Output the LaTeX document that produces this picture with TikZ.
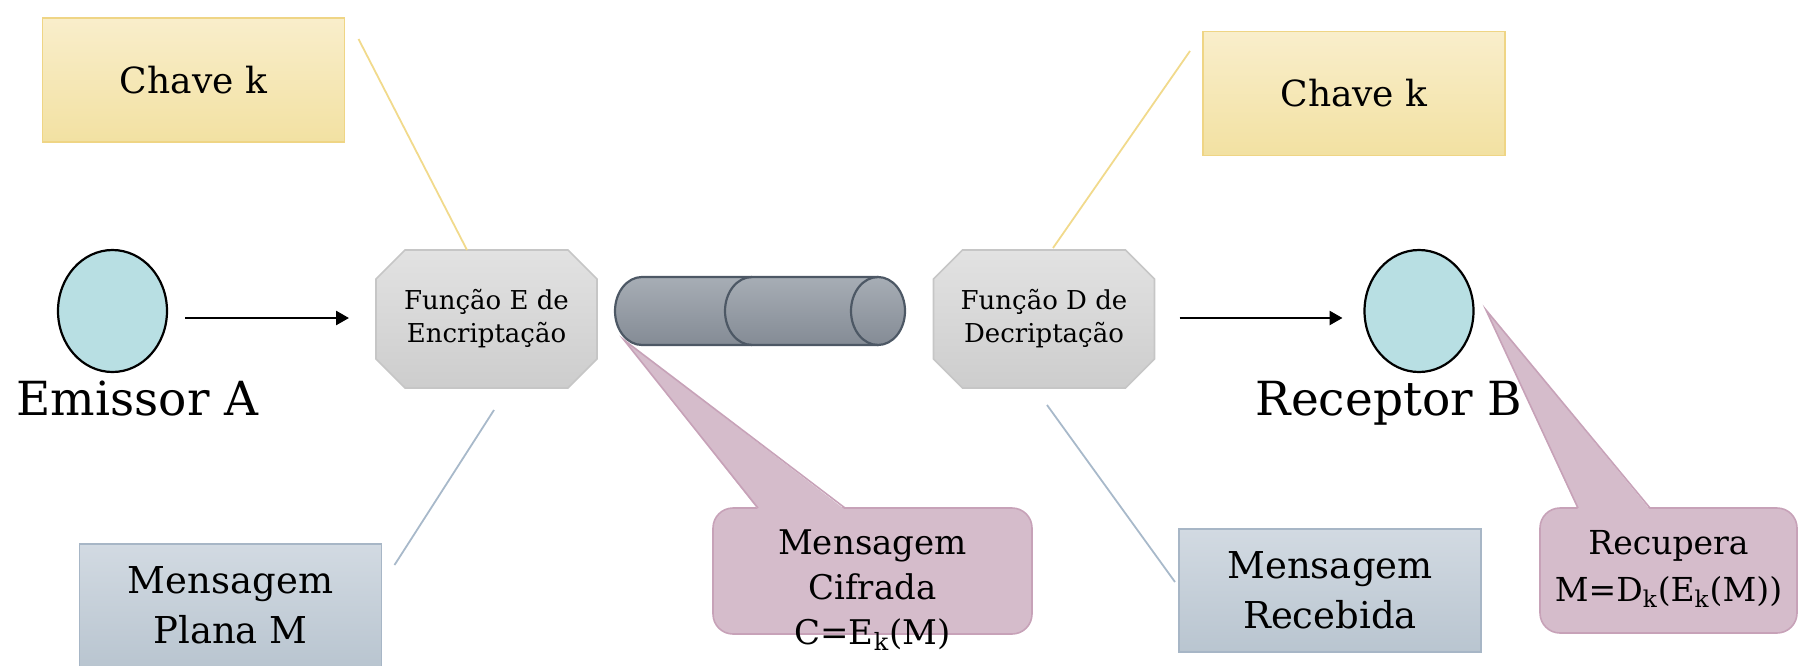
\documentclass[tikz,border=0pt]{standalone}
\usepackage{fontspec}
\setmainfont{DejaVu Serif}
\usetikzlibrary{shapes.geometric,arrows.meta,calc,backgrounds}

\definecolor{keytop}{HTML}{F9EECB}
\definecolor{keybot}{HTML}{F2E1A2}
\definecolor{keyedge}{HTML}{EFD585}
\definecolor{keyline}{HTML}{F1DA8C}
\definecolor{msgtop}{HTML}{D2DAE2}
\definecolor{msgbot}{HTML}{B9C5D0}
\definecolor{msgedge}{HTML}{A7B6C6}
\definecolor{msgline}{HTML}{A8B9CA}
\definecolor{functop}{HTML}{E2E2E2}
\definecolor{funcbot}{HTML}{CDCDCD}
\definecolor{funcedge}{HTML}{C6C6C6}
\definecolor{partyfill}{HTML}{B8DFE3}
\definecolor{callfill}{HTML}{D5BCCB}
\definecolor{calledge}{HTML}{C7A2B8}
\definecolor{cyltop}{HTML}{A7ADB5}
\definecolor{cylbot}{HTML}{848B95}
\definecolor{cyledge}{HTML}{4D5865}

\begin{document}
\begin{tikzpicture}[x=0.5pt,y=-0.5pt,
  keybox/.style={draw=keyedge, top color=keytop, bottom color=keybot, line width=0.8pt,
    minimum width=151pt, minimum height=62pt, inner sep=0pt, outer sep=0pt,
    font=\fontsize{18}{22}\selectfont},
  msgbox/.style={draw=msgedge, top color=msgtop, bottom color=msgbot, line width=0.8pt,
    minimum width=151pt, minimum height=61.5pt, inner sep=0pt, outer sep=0pt, align=center,
    font=\fontsize{18.5}{25}\selectfont},
  party/.style={ellipse, draw=black, line width=1.1pt, fill=partyfill,
    minimum width=54.5pt, minimum height=61pt, inner sep=0pt, outer sep=0pt},
  partylabel/.style={anchor=base, inner sep=0pt, font=\fontsize{23.5}{28}\selectfont},
  func/.style={rectangle, minimum width=110.5pt, minimum height=69pt, inner sep=0pt,
    outer sep=0pt, align=center, font=\fontsize{13}{16.5}\selectfont},
  funcshape/.style={draw=funcedge, top color=functop, bottom color=funcbot, line width=0.8pt},
  callbox/.style={draw=calledge, fill=callfill, line width=0.8pt, rounded corners=10pt,
    inner sep=0pt, outer sep=0pt},
  calltext/.style={align=center, inner sep=0pt},
  flow/.style={-{Triangle[length=6.5pt,width=7pt]}, line width=1.3pt},
  keylink/.style={draw=keyline, line width=0.9pt},
  msglink/.style={draw=msgline, line width=0.9pt},
  cylbody/.style={top color=cyltop, bottom color=cylbot},
  cylline/.style={draw=cyledge, line width=1.1pt}
]
\useasboundingbox (0,0) rectangle (1798,665);
\clip (0,0) rectangle (1798,665);

% keys
\node[keybox] (k1) at (193.5,80) {Chave k};
\node[keybox] (k2) at (1354,93.5) {Chave k};

% sender and receiver
\node[party] (A) at (112.5,311) {};
\node[party] (B) at (1419,311) {};
\node[partylabel] (labA) at (137.5,415) {Emissor A};
\node[partylabel] (labB) at (1389,415) {Receptor B};

% encryption / decryption functions
\node[func] (E) at (486.5,319) {Função E de\\Encriptação};
\node[func] (D) at (1044,319) {Função D de\\Decriptação};
\begin{scope}[on background layer]
  \foreach \f in {E,D}{
    \path[funcshape] ($(\f.north west)+(29,0)$) -- ($(\f.north east)+(-29,0)$)
      -- ($(\f.north east)+(0,29)$) -- ($(\f.south east)+(0,-29)$)
      -- ($(\f.south east)+(-29,0)$) -- ($(\f.south west)+(29,0)$)
      -- ($(\f.south west)+(0,-29)$) -- ($(\f.north west)+(0,29)$) -- cycle;
  }
\end{scope}

% messages
\node[msgbox] (plain) at (230.5,605.5) {Mensagem\\Plana M};
\node[msgbox] (recv) at (1330,590.5) {Mensagem\\Recebida};

% channel (cylinder)
\shade[cylbody] (642,277) rectangle (878,345)
  (642,311) ellipse [x radius=13.5pt, y radius=17pt]
  (878,311) ellipse [x radius=13.5pt, y radius=17pt];
\draw[cylline] (878,277) -- (642,277)
  arc [start angle=90, end angle=270, x radius=13.5pt, y radius=17pt] -- (878,345);
\draw[cylline] (752,277) arc [start angle=90, end angle=270, x radius=13.5pt, y radius=17pt];
\draw[cylline] (878,311) ellipse [x radius=13.5pt, y radius=17pt];
\coordinate (cyl) at (760,311);

% flows
\draw[flow] ($(A.east)+(18,7)$) -- ($(E.west)+(-27,-1)$);
\draw[flow] ($(D.east)+(25,-1)$) -- ($(B.west)+(-22,7)$);

% links
\draw[keylink] ($(k1.north east)+(14,21)$) -- ($(E.north)+(-19.5,0)$);
\draw[keylink] ($(k2.north west)+(-13,19.5)$) -- ($(D.north)+(9,-2)$);
\draw[msglink] ($(E.south)+(7.5,22)$) -- ($(plain.north east)+(13,21)$);
\draw[msglink] ($(D.south)+(3,17)$) -- ($(recv.west)+(-4,-8.5)$);

% callouts
\coordinate (cifraTip) at (624,340);
\coordinate (recupTip) at (1486,310);
\node[callbox, minimum width=159.5pt, minimum height=63pt] (cifraBox) at (872.5,571) {};
\node[callbox, minimum width=128.5pt, minimum height=62.5pt] (recupBox) at (1668.5,570.5) {};
\fill[callfill] ($(cifraBox.north west)+(45,1.6)$) -- (cifraTip) -- ($(cifraBox.north west)+(132,1.6)$) -- cycle;
\draw[calledge, line width=0.8pt] ($(cifraBox.north west)+(45,0)$) -- (cifraTip) -- ($(cifraBox.north west)+(132,0)$);
\fill[callfill] ($(recupBox.north west)+(38,1.6)$) -- (recupTip) -- ($(recupBox.north west)+(110,1.6)$) -- cycle;
\draw[calledge, line width=0.8pt] ($(recupBox.north west)+(38,0)$) -- (recupTip) -- ($(recupBox.north west)+(110,0)$);

\node[calltext, font=\fontsize{17}{22.5}\selectfont] (cifra) at (872.5,590)
  {Mensagem\\Cifrada\\C=E\textsubscript{k}(M)};
\node[calltext, font=\fontsize{16.5}{23.5}\selectfont] (recup) at (1668.5,569)
  {Recupera\\M=D\textsubscript{k}(E\textsubscript{k}(M))};
\end{tikzpicture}
\end{document}
